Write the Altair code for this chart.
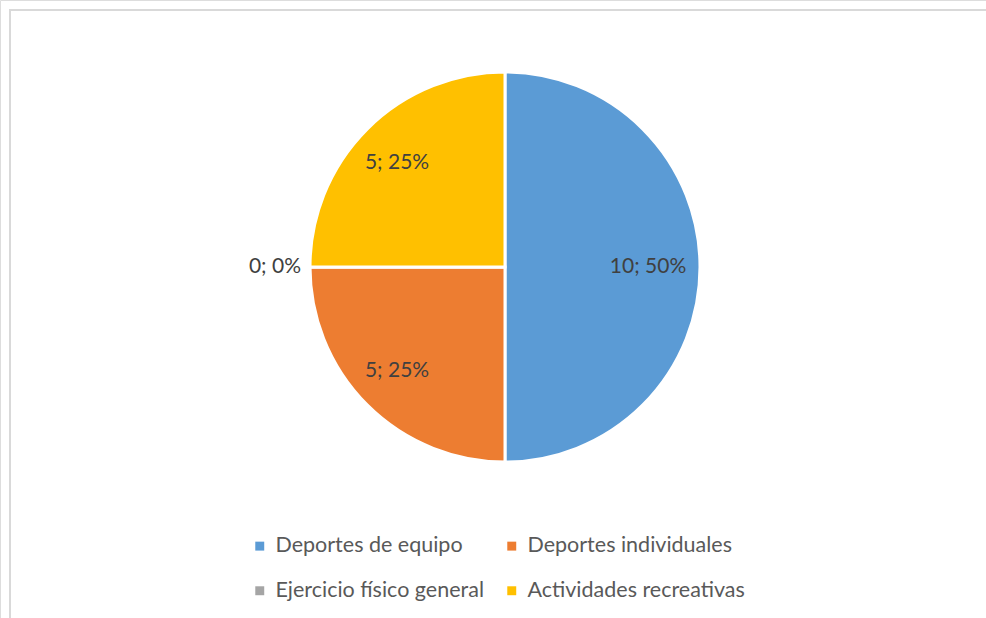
import altair as alt
import pandas as pd

categories = ["Deportes de equipo", "Deportes individuales", "Ejercicio físico general", "Actividades recreativas"]
values = [10, 5, 0, 5]
colors = ["#5B9BD5", "#ED7D31", "#A5A5A5", "#FFC000"]

# legend reads row by row: two columns
legend_order = [categories[0], categories[2], categories[1], categories[3]]
legend_colors = [colors[0], colors[2], colors[1], colors[3]]

df = pd.DataFrame({"cat": categories, "value": values, "order": list(range(len(categories)))})

FONT = "Lato"
CX, CY, R = 505, 267, 195

base = alt.Chart(df)

color = alt.Color(
    "cat:N",
    scale=alt.Scale(domain=legend_order, range=legend_colors),
    legend=alt.Legend(
        title=None, orient="none", legendX=249, legendY=535, columns=2,
        symbolType="square", symbolSize=80, symbolStrokeWidth=0,
        labelFont=FONT, labelFontSize=21.5, labelColor="#595959",
        rowPadding=22, columnPadding=17, labelOffset=5, labelLimit=400,
    ),
)

border = base.mark_rect(fill=None, stroke="#d9d9d9", strokeWidth=2).encode(
    x=alt.value(10), x2=alt.value(1200), y=alt.value(10), y2=alt.value(900)
)

pie = base.mark_arc(outerRadius=R, stroke="white", strokeWidth=3).encode(
    theta=alt.Theta("value:Q", stack=True),
    color=color,
    order=alt.Order("order:Q"),
    x=alt.value(CX), y=alt.value(CY),
)

lab = (
    base.transform_joinaggregate(total="sum(value)")
    .transform_stack(stack="value", as_=["v0", "v1"], groupby=[], sort=[alt.SortField("order")])
    .transform_calculate(
        frac="((datum.v0 + datum.v1) / 2) / datum.total",
        label="datum.value + '; ' + format(datum.value / datum.total, '.0%')",
    )
)

theta_enc = alt.Theta("frac:Q", scale=alt.Scale(domain=[0, 1]))

inner = lab.transform_filter("datum.value > 0").mark_text(
    font=FONT, fontSize=21, color="#404040", align="center", baseline="middle", dx=-4
).encode(theta=theta_enc, radius=alt.value(147), text="label:N", x=alt.value(CX), y=alt.value(CY))

outer = lab.transform_filter("datum.value == 0").mark_text(
    font=FONT, fontSize=21, color="#404040", align="right", baseline="middle"
).encode(theta=theta_enc, radius=alt.value(204), text="label:N", x=alt.value(CX), y=alt.value(CY))

chart = alt.layer(border, pie, inner, outer).resolve_scale(theta="independent").properties(
    width=986, height=618, padding=0, autosize=alt.AutoSizeParams(type="none")
).configure_view(stroke=None).configure(background="white")

chart.save("out.html", embed_options={"renderer": "svg", "actions": False})
